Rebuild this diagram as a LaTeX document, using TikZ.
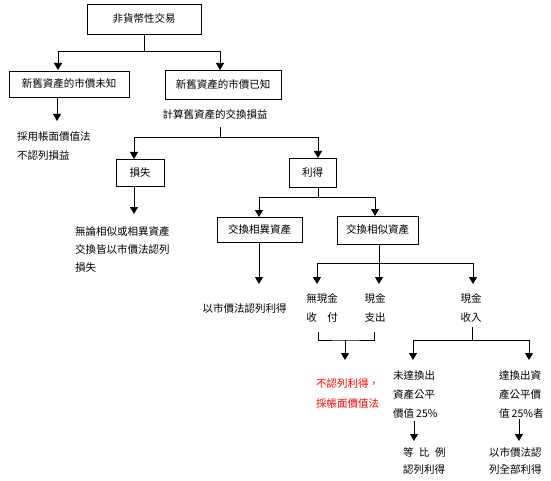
\documentclass[tikz,border=0pt]{standalone}
\usepackage{fontspec}
\setmainfont{Noto Sans CJK TC}
\usetikzlibrary{arrows.meta}
\begin{document}
\begin{tikzpicture}[x=1pt,y=-1pt,
  every node/.style={font=\fontsize{10.5}{19}\selectfont},
  box/.style={draw, line width=0.9pt, inner sep=0pt, minimum width=#1},
  ln/.style={line width=0.9pt},
  arr/.style={line width=0.9pt, -{Triangle[width=8pt,length=7pt]}},
  txt/.style={inner sep=0pt, align=left, anchor=north west}]
\useasboundingbox (0,0) rectangle (551,481);
% boxes
\node[box=114, minimum height=30] (top) at (144,19) {非貨幣性交易};
\node[box=120, minimum height=26] (unk) at (69,84) {新舊資產的市價未知};
\node[box=116, minimum height=29] (known) at (223,84.5) {新舊資產的市價已知};
\node[box=48, minimum height=27] (loss) at (140,172.5) {損失};
\node[box=47, minimum height=29] (gain) at (312.5,172.5) {利得};
\node[box=85, minimum height=25] (diff) at (259.5,229.5) {交換相異資產};
\node[box=81, minimum height=28] (sim) at (377.5,230) {交換相似資產};
% texts
\node[txt] (unkres) at (17,131) {採用帳面價值法\\不認列損益};
\node[inner sep=0pt] (calc) at (215,115) {計算舊資產的交換損益};
\node[txt, font=\fontsize{10.5}{18}\selectfont] (losst) at (75,226) {無論相似或相異資產\\交換皆以市價法認列\\損失};
\node[inner sep=0pt] (difft) at (244.5,308) {以市價法認列利得};
\node[inner sep=0pt, align=center, anchor=north] (nocash) at (322,293) {無現金\\收　付};
\node[inner sep=0pt, align=center, anchor=north] (cpay) at (375,293) {現金\\支出};
\node[inner sep=0pt, align=center, anchor=north] (crec) at (471,293) {現金\\收入};
\node[txt, text=red, font=\fontsize{10.5}{20}\selectfont] (red) at (316,378) {不認列利得，\\採帳面價值法};
\node[txt] (lt) at (393,370) {未達換出\\資產公平\\價值\hspace{2pt}25\%};
\node[txt] (rt) at (499,370) {達換出資\\產公平價\\值\hspace{2pt}25\%者};
\node[txt, font=\fontsize{10.5}{17}\selectfont] (ltr) at (403,447) {等\hspace{5.5pt}比\hspace{5.5pt}例\\認列利得};
\node[txt, font=\fontsize{10.5}{17}\selectfont] (rtr) at (489,447) {以市價法認\\列全部利得};
% coordinates
\coordinate (j1) at (144,51);
\coordinate (aUnk) at (58,70);
\coordinate (aKnown) at (220,70);
\coordinate (s1) at (57,97);
\coordinate (e1) at (57,121);
\coordinate (c1) at (220,127);
\coordinate (j2) at (220,137);
\coordinate (aLoss) at (134,159);
\coordinate (aGain) at (318,158);
\coordinate (s2) at (134,186);
\coordinate (e2) at (134,214);
\coordinate (g1) at (318,187);
\coordinate (j3) at (318,197);
\coordinate (aDiff) at (259,217);
\coordinate (aSim) at (375,216);
\coordinate (s3) at (259,242);
\coordinate (e3) at (259,284);
\coordinate (s4) at (379,244);
\coordinate (j4) at (379,263);
\coordinate (e4a) at (317,284);
\coordinate (e4b) at (379,284);
\coordinate (e4c) at (473,284);
\coordinate (bL) at (318,332);
\coordinate (bR) at (374,332);
\coordinate (j5) at (345,340);
\coordinate (e5) at (345,360);
\coordinate (r1) at (472,327);
\coordinate (j6) at (472,340);
\coordinate (e6a) at (413,360);
\coordinate (e6b) at (529,360);
\coordinate (s7a) at (414,421);
\coordinate (e7a) at (414,441);
\coordinate (s7b) at (519,419);
\coordinate (e7b) at (519,441);
% connectors
\draw[ln] (top.south -| j1) -- (j1);
\draw[arr] (j1) -| (aUnk);
\draw[arr] (j1) -| (aKnown);
\draw[arr] (s1) -- (e1);
\draw[ln] (c1) -- (j2);
\draw[arr] (j2) -| (aLoss);
\draw[arr] (j2) -| (aGain);
\draw[arr] (s2) -- (e2);
\draw[ln] (g1) -- (j3);
\draw[arr] (j3) -| (aDiff);
\draw[arr] (j3) -| (aSim);
\draw[arr] (s3) -- (e3);
\draw[ln] (s4) -- (j4);
\draw[arr] (j4) -| (e4a);
\draw[arr] (j4) -- (e4b);
\draw[arr] (j4) -| (e4c);
\draw[ln] (bL) |- (j5) -| (bR);
\draw[arr] (j5) -- (e5);
\draw[ln] (r1) -- (j6);
\draw[arr] (j6) -| (e6a);
\draw[arr] (j6) -| (e6b);
\draw[arr] (s7a) -- (e7a);
\draw[arr] (s7b) -- (e7b);
\end{tikzpicture}
\end{document}
